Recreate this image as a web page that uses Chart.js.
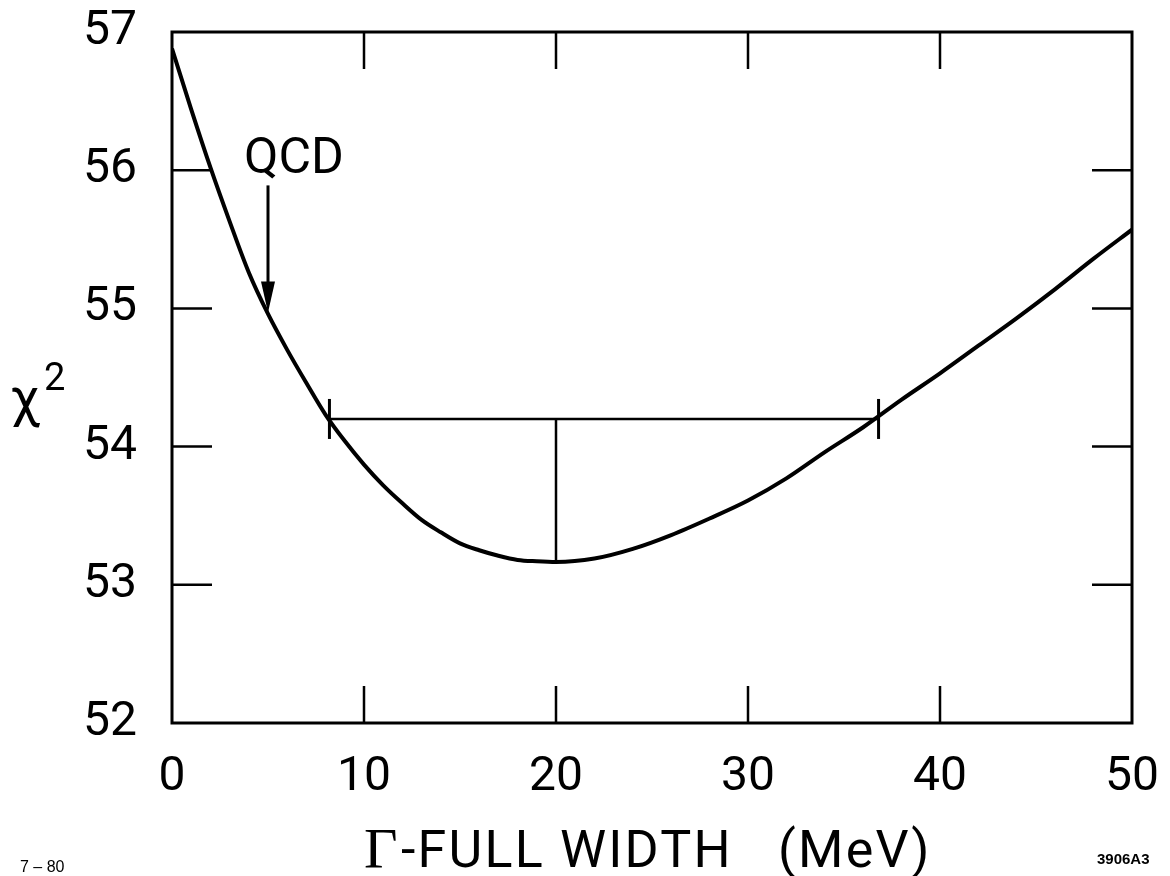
<!DOCTYPE html>
<html>
<head>
<meta charset="utf-8">
<script src="https://cdn.jsdelivr.net/npm/chart.js@4"></script>
<style>
    body { margin: 0; background: #fff; }
    #wrap { width: 1170px; height: 876px; }
</style>
</head>
<body>
<div id="wrap"><canvas id="chiChart" width="1170" height="876"></canvas></div>
<script>
// Chi-square scan vs full width
const widths = [0, 1, 2, 3, 4, 5, 6, 7, 8, 9, 10, 11, 12, 13, 14, 15, 16, 17, 18, 19, 20,
    22, 24, 26, 28, 30, 32, 34, 36, 38, 40, 42, 44, 46, 48, 50];
const chi2 = [56.88, 56.44, 56.02, 55.63, 55.26, 54.96, 54.70, 54.46, 54.23, 54.04, 53.87,
    53.72, 53.59, 53.47, 53.38, 53.30, 53.25, 53.21, 53.18, 53.17, 53.165,
    53.19, 53.26, 53.36, 53.48, 53.61, 53.77, 53.96, 54.14, 54.34, 54.53,
    54.73, 54.93, 55.14, 55.36, 55.57];

// error bar: range where chi2 = min + 1, and the best value
const errRangeX = [8.2, 36.8];
const errLevel = 54.2;
const bestWidth = 20;
const bestChi2 = 53.165;

// QCD prediction arrow
const qcdWidth = 5;
const qcdArrowFrom = 55.89;
const qcdArrowTo = 54.97;

const xTicks = [0, 10, 20, 30, 40, 50];
const yTicks = [52, 53, 54, 55, 56, 57];

const FONT = 'Roboto, "Liberation Sans", sans-serif';

// frame, inward tick marks and loose text
const decorPlugin = {
    id: 'decor',
    afterDatasetsDraw(chart) {
        const { ctx, chartArea: a, scales } = chart;
        const xs = scales.x, ys = scales.y;
        ctx.save();
        ctx.strokeStyle = '#000';
        ctx.lineWidth = 3;
        ctx.strokeRect(a.left, a.top, a.right - a.left, a.bottom - a.top);

        ctx.lineWidth = 2.5;
        ctx.beginPath();
        xTicks.slice(1, -1).forEach(v => {
            const px = xs.getPixelForValue(v);
            ctx.moveTo(px, a.bottom); ctx.lineTo(px, a.bottom - 37);
            ctx.moveTo(px, a.top); ctx.lineTo(px, a.top + 37);
        });
        yTicks.slice(1, -1).forEach(v => {
            const py = ys.getPixelForValue(v);
            ctx.moveTo(a.left, py); ctx.lineTo(a.left + 40, py);
            ctx.moveTo(a.right, py); ctx.lineTo(a.right - 40, py);
        });
        ctx.stroke();

        // QCD arrow
        const ax = xs.getPixelForValue(qcdWidth);
        const ay0 = ys.getPixelForValue(qcdArrowFrom);
        const ay1 = ys.getPixelForValue(qcdArrowTo);
        ctx.lineWidth = 3;
        ctx.beginPath();
        ctx.moveTo(ax, ay0); ctx.lineTo(ax, ay1 - 20);
        ctx.stroke();
        ctx.fillStyle = '#000';
        ctx.beginPath();
        ctx.moveTo(ax - 7, ay1 - 31);
        ctx.lineTo(ax + 7, ay1 - 31);
        ctx.lineTo(ax, ay1);
        ctx.closePath();
        ctx.fill();

        ctx.textBaseline = 'alphabetic';
        ctx.textAlign = 'left';
        ctx.font = '50px ' + FONT;
        ctx.fillText('QCD', 244, 173);

        // axis titles
        ctx.font = '54px ' + FONT;
        ctx.fillText('\u03C7', 10, 416);
        ctx.font = '38px ' + FONT;
        ctx.fillText('2', 44, 390);

        ctx.font = '58px "Liberation Serif", serif';
        ctx.fillText('\u0393', 364, 868);
        ctx.font = '52px ' + FONT;
        ctx.letterSpacing = '2.2px';
        ctx.fillText('-FULL WIDTH   (MeV)', 401, 867);
        ctx.letterSpacing = '0px';

        ctx.font = '16px "Liberation Sans", sans-serif';
        ctx.fillText('7 \u2013 80', 20, 872);
        ctx.font = 'bold 15px "Liberation Sans", sans-serif';
        ctx.fillText('3906A3', 1097, 864);
        ctx.restore();
    }
};

const ctx = document.getElementById('chiChart').getContext('2d');
new Chart(ctx, {
    type: 'line',
    data: {
        datasets: [
            {
                data: widths.map((w, i) => ({ x: w, y: chi2[i] })),
                borderColor: '#000',
                borderWidth: 4,
                pointRadius: 0,
                cubicInterpolationMode: 'monotone',
                fill: false
            },
            {
                data: errRangeX.map(w => ({ x: w, y: errLevel })),
                borderColor: '#000',
                borderWidth: 2.5,
                pointStyle: 'line',
                rotation: 90,
                pointRadius: 20,
                pointBorderWidth: 3,
                pointBorderColor: '#000'
            },
            {
                data: [{ x: bestWidth, y: errLevel }, { x: bestWidth, y: bestChi2 }],
                borderColor: '#000',
                borderWidth: 2.5,
                pointRadius: 0
            }
        ]
    },
    options: {
        responsive: false,
        animation: false,
        layout: { padding: { top: 32, right: 38, left: 0, bottom: 0 } },
        plugins: {
            legend: { display: false },
            tooltip: { enabled: false }
        },
        scales: {
            x: {
                type: 'linear',
                min: 0,
                max: 50,
                afterBuildTicks: s => { s.ticks = xTicks.map(v => ({ value: v })); },
                afterFit: s => { s.height = 153; s.paddingLeft = 0; s.paddingRight = 0; },
                grid: { display: false, drawTicks: false },
                border: { display: false },
                ticks: { color: '#000', padding: 26, font: { family: FONT, size: 48 } }
            },
            y: {
                min: 52,
                max: 57,
                afterBuildTicks: s => { s.ticks = yTicks.map(v => ({ value: v })); },
                afterFit: s => { s.width = 172; s.paddingTop = 0; s.paddingBottom = 0; },
                grid: { display: false, drawTicks: false },
                border: { display: false },
                ticks: { color: '#000', padding: 35, font: { family: FONT, size: 48 } }
            }
        }
    },
    plugins: [decorPlugin]
});
</script>
</body>
</html>
